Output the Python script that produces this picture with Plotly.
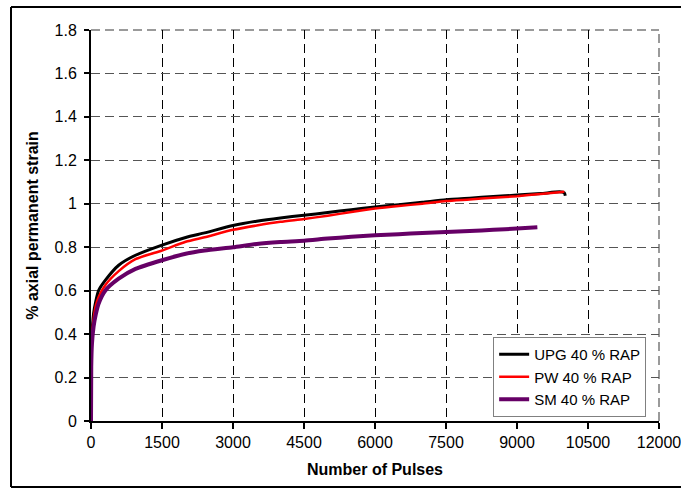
import plotly.graph_objects as go

# ---- data ----
upg_pulses = [0, 5, 20, 55, 100, 160, 300, 585, 940, 1500, 2000, 2400, 3000, 3500, 4000,
              4500, 5000, 5500, 6000, 6500, 7000, 7500, 8000, 8500, 9000, 9500, 9900, 10000, 10020]
upg_strain = [0, 0.30, 0.40, 0.495, 0.55, 0.60, 0.647, 0.717, 0.763, 0.81, 0.845, 0.866, 0.90, 0.92, 0.935,
              0.947, 0.96, 0.973, 0.985, 0.996, 1.007, 1.019, 1.026, 1.033, 1.04, 1.047, 1.055, 1.05, 1.037]

pw_pulses = [0, 5, 20, 55, 100, 160, 300, 585, 940, 1500, 2000, 2400, 3000, 3500, 4000,
             4500, 5000, 5500, 6000, 6500, 7000, 7500, 8000, 8500, 9000, 9500, 10000]
pw_strain = [0, 0.30, 0.39, 0.47, 0.53, 0.57, 0.625, 0.69, 0.745, 0.785, 0.825, 0.846, 0.88, 0.90, 0.917,
             0.93, 0.945, 0.962, 0.978, 0.99, 1.0, 1.013, 1.02, 1.028, 1.035, 1.045, 1.055]

sm_pulses = [0, 5, 20, 55, 100, 160, 300, 585, 940, 1500, 2000, 2400, 3000, 3500, 4000,
             4500, 5000, 5500, 6000, 6500, 7000, 7500, 8000, 8500, 9000, 9430]
sm_strain = [0, 0.25, 0.355, 0.435, 0.49, 0.54, 0.60, 0.655, 0.70, 0.74, 0.77, 0.785, 0.80, 0.815, 0.824,
             0.83, 0.84, 0.848, 0.855, 0.86, 0.866, 0.87, 0.875, 0.88, 0.886, 0.892]

series_names = ["UPG 40 % RAP", "PW 40 % RAP", "SM 40 % RAP"]
x_ticks = [0, 1500, 3000, 4500, 6000, 7500, 9000, 10500, 12000]
y_ticks = [0, 0.2, 0.4, 0.6, 0.8, 1, 1.2, 1.4, 1.6, 1.8]
y_tick_text = ["0", "0.2", "0.4", "0.6", "0.8", "1", "1.2", "1.4", "1.6", "1.8"]

FONT = "Liberation Sans, Arial, sans-serif"

fig = go.Figure()
fig.add_trace(go.Scatter(x=upg_pulses, y=upg_strain, mode="lines", name=series_names[0],
                         line=dict(color="#000000", width=3, shape="spline", smoothing=0.6)))
fig.add_trace(go.Scatter(x=pw_pulses, y=pw_strain, mode="lines", name=series_names[1],
                         line=dict(color="#FF0000", width=2.5, shape="spline", smoothing=0.6)))
fig.add_trace(go.Scatter(x=sm_pulses, y=sm_strain, mode="lines", name=series_names[2],
                         line=dict(color="#660066", width=4, shape="spline", smoothing=0.6)))

fig.update_xaxes(range=[0, 12000], tickvals=x_ticks, ticktext=[str(v) for v in x_ticks],
                 showline=True, linecolor="black", linewidth=2,
                 ticks="outside", ticklen=6, tickcolor="black", tickwidth=2,
                 showgrid=True, gridcolor="#000000", gridwidth=1, griddash="9px,5px",
                 zeroline=False, automargin=False, ticklabeloverflow="allow",
                 tickfont=dict(family=FONT, size=16, color="black"),
                 title=dict(text="<b>Number of Pulses</b>", font=dict(family=FONT, size=16, color="black"),
                            standoff=14))
fig.update_yaxes(range=[0, 1.8], tickvals=y_ticks, ticktext=y_tick_text,
                 showline=True, linecolor="black", linewidth=2,
                 ticks="outside", ticklen=5, tickcolor="black", tickwidth=2,
                 showgrid=True, gridcolor="#555555", gridwidth=1, griddash="9px,5px",
                 zeroline=False, automargin=False, ticklabeloverflow="allow",
                 ticklabelstandoff=4,
                 tickfont=dict(family=FONT, size=16, color="black"),
                 title=dict(text="<b>% axial permanent strain</b>", font=dict(family=FONT, size=16, color="black"),
                            standoff=12))

fx0 = (11 - 91) / 568
fx1 = (681 - 91) / 568
fy0 = (421 - 487) / 391
fy1 = (421 - 7) / 391
frame_line = dict(color="black", width=2)

fig.update_layout(
    width=681, height=489,
    margin=dict(l=91, r=22, t=30, b=68),
    paper_bgcolor="white", plot_bgcolor="white",
    font=dict(family=FONT, color="black"),
    showlegend=True,
    legend=dict(x=0.708, y=0.215, xanchor="left", yanchor="top",
                bgcolor="white", bordercolor="#808080", borderwidth=1,
                font=dict(family=FONT, size=15, color="black"),
                tracegroupgap=0),
    shapes=[
        # outer chart frame: left, top, bottom (right side runs off the picture)
        dict(type="line", xref="paper", yref="paper", x0=fx0, x1=fx0, y0=fy0, y1=fy1, line=frame_line),
        dict(type="line", xref="paper", yref="paper", x0=fx0, x1=fx1, y0=fy1, y1=fy1, line=frame_line),
        dict(type="line", xref="paper", yref="paper", x0=fx0, x1=fx1, y0=fy0, y1=fy0, line=frame_line),
        # light grey top / right plot border
        dict(type="line", xref="paper", yref="paper", x0=0, x1=1, y0=1, y1=1,
             line=dict(color="#9a9a9a", width=2, dash="9px,5px"), layer="between"),
        dict(type="line", xref="paper", yref="paper", x0=1, x1=1, y0=0, y1=1,
             line=dict(color="#9a9a9a", width=2, dash="9px,5px"), layer="between"),
    ],
)

fig.write_html("out.html", config={"displayModeBar": False},
               post_script="document.body.style.margin='0px';document.body.style.overflow='hidden';")
